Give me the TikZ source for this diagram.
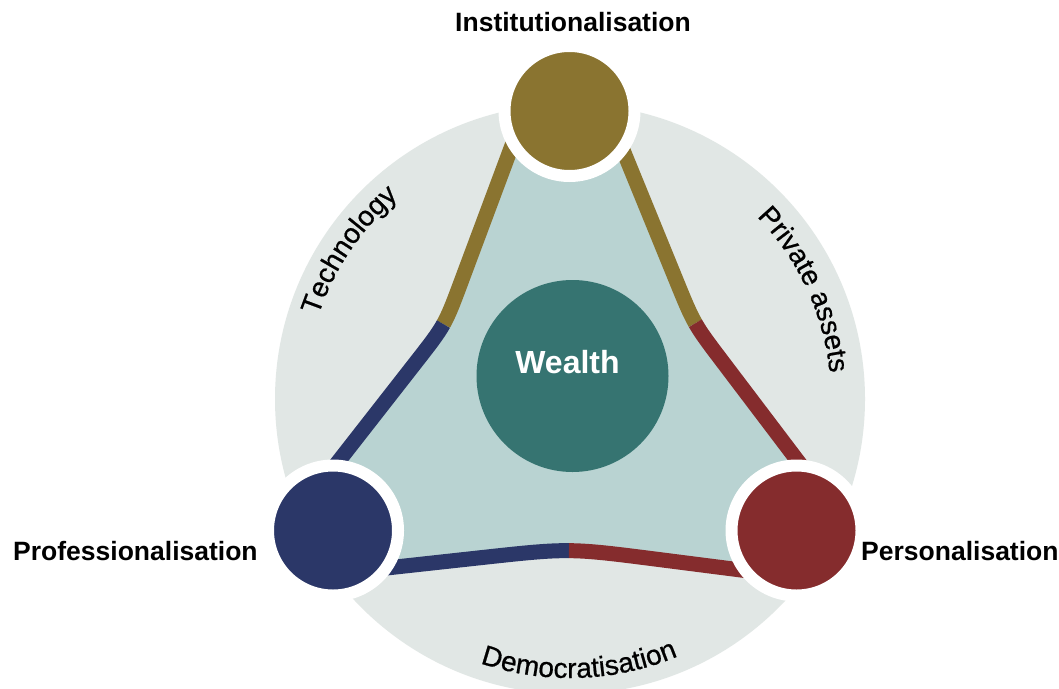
\documentclass[tikz,border=0pt]{standalone}
\usepackage{fontspec}
\setmainfont{Liberation Sans}
\newfontfamily\arcfam[FakeBold=0.7]{Liberation Sans}
\usetikzlibrary{calc,decorations.text}
\definecolor{ringgrey}{RGB}{225,231,229}
\definecolor{innerteal}{RGB}{185,211,210}
\definecolor{wealthteal}{RGB}{54,116,113}
\definecolor{goldc}{RGB}{138,116,48}
\definecolor{navyc}{RGB}{43,55,104}
\definecolor{redc}{RGB}{133,44,45}
\newcommand\arcfont{\arcfam\fontsize{28}{32}\selectfont}
% corner helper: #1 name, #2 previous point, #3 corner, #4 next point, #5 rounding distance
\newcommand\mkcorner[5]{%
  \coordinate (#1i) at ($(#3)!#5!(#2)$);
  \coordinate (#1o) at ($(#3)!#5!(#4)$);
  \coordinate (#1h) at ($(#1i)!0.5!(#1o)$);
  \coordinate (#1m) at ($(#3)!0.25!(#1h)$);
  \coordinate (#1a) at ($(#1i)!0.5!(#3)$);
  \coordinate (#1b) at ($(#1i)!0.75!(#3)$);
  \coordinate (#1c) at ($(#1o)!0.75!(#3)$);
  \coordinate (#1d) at ($(#1o)!0.5!(#3)$);
}
\begin{document}
\begin{tikzpicture}[x=1pt,y=-1pt,
  band/.style={line width=15pt, line cap=butt, line join=round},
  hub/.style={circle, minimum size=130pt, inner sep=0pt, draw=white, line width=12pt},
  lab/.style={font=\bfseries\fontsize{26.5}{30}\selectfont, inner sep=0pt, text=black},
  arctext/.style={decorate, decoration={text along path, text align=center, text={|\arcfont|#1}}}]
\useasboundingbox (0,0) rectangle (1059,688);
\fill[white] (0,0) rectangle (1059,688);

% background disc
\node[circle, fill=ringgrey, minimum size=590pt, inner sep=0pt] (bg) at (570,399) {};

% hub positions
\coordinate (T) at (569.5,111);
\coordinate (L) at (333,530.5);
\coordinate (R) at (796.5,530.5);

% band geometry
\coordinate (S1) at ($(T)+(-48,9)$);
\coordinate (KL) at (445,325);
\coordinate (E1) at ($(L)+(-13,-45.5)$);
\coordinate (S2) at ($(T)+(41.2,9)$);
\coordinate (KR) at (694,324);
\coordinate (E2) at ($(R)+(19.5,-45.5)$);
\coordinate (B1) at ($(L)+(17,41.5)$);
\coordinate (KB) at (569,548);
\coordinate (B2) at ($(R)+(-16.5,44.5)$);
\mkcorner{KL}{S1}{KL}{E1}{48pt}
\mkcorner{KR}{S2}{KR}{E2}{48pt}
\mkcorner{KB}{B1}{KB}{B2}{90pt}

% inner fill
\fill[innerteal] (S1) -- (KLi) .. controls (KL) and (KL) .. (KLo) -- (E1)
  -- (B1) -- (KBi) .. controls (KB) and (KB) .. (KBo) -- (B2)
  -- (E2) -- (KRo) .. controls (KR) and (KR) .. (KRi) -- (S2) -- cycle;

% bands
\draw[band, goldc] (S1) -- (KLi) .. controls (KLa) and (KLb) .. (KLm);
\draw[band, goldc] (S2) -- (KRi) .. controls (KRa) and (KRb) .. (KRm);
\draw[band, navyc] (KLm) .. controls (KLc) and (KLd) .. (KLo) -- (E1);
\draw[band, navyc] (B1) -- (KBi) .. controls (KBa) and (KBb) .. (KBm);
\draw[band, redc] (KRm) .. controls (KRc) and (KRd) .. (KRo) -- (E2);
\draw[band, redc] (KBm) .. controls (KBc) and (KBd) .. (KBo) -- (B2);

% hubs
\node[hub, fill=goldc] (inst) at (T) {};
\node[hub, fill=navyc] (prof) at (L) {};
\node[hub, fill=redc] (pers) at (R) {};

% wealth
\node[circle, fill=wealthteal, minimum size=192pt, inner sep=0pt] (wealth) at (572.5,376) {};
\node[font=\bfseries\fontsize{32}{36}\selectfont, text=white, inner sep=0pt, anchor=base] (wealthlab) at (567.5,373.5) {Wealth};

% labels
\node[lab, anchor=base] (instlab) at (573,31.7) {Institutionalisation};
\node[lab, anchor=base west] (proflab) at (13,560) {Professionalisation};
\node[lab, anchor=base west] (perslab) at (861,560) {Personalisation};

% curved labels
\path[arctext=Technology] ($(bg.center)+(-186:265)$) arc[start angle=-186, end angle=-106, radius=265];
\path[arctext=Private assets] ($(bg.center)+(-65:261)$) arc[start angle=-65, end angle=15, radius=261];
\path[arctext=Democratisation] ($(bg.center)+(128:279)$) arc[start angle=128, end angle=48, radius=279];
\end{tikzpicture}
\end{document}
